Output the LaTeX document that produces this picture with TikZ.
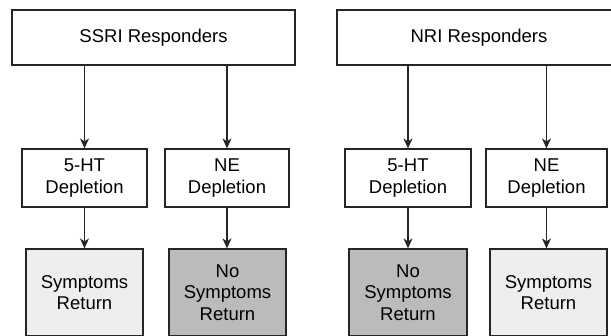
\documentclass[tikz,border=0pt]{standalone}
\usepackage{fontspec}
\setmainfont{Liberation Sans}
\usepackage{tikz}
\usetikzlibrary{arrows.meta}
\definecolor{lightfill}{RGB}{238,238,238}
\definecolor{darkfill}{RGB}{187,187,187}
\tikzset{
  box/.style={draw=black!85, line width=1.2pt, align=center, inner sep=0pt,
    font=\fontsize{18.5}{21.5}\selectfont},
  topbox/.style={box, minimum width=283pt, minimum height=55pt},
  midbox/.style={box, minimum height=58pt},
  endbox/.style={box, minimum height=87pt},
  arr/.style={draw=black!85, line width=1.2pt, -{Stealth[length=10pt,width=9pt,inset=3pt]}}
}

\begin{document}
\begin{tikzpicture}[x=1pt,y=-1pt]
    \useasboundingbox (0,0) rectangle (611,335);
    \node[topbox] (ssri) at (153.5,37.5) {SSRI Responders};
    \node[midbox, minimum width=125pt] (ssriht) at (84.5,178) {5-HT\\Depletion};
    \node[midbox, minimum width=124pt] (ssrine) at (227,178) {NE\\Depletion};
    \node[endbox, minimum width=117pt, fill=lightfill] (ssrihtend) at (84.5,292.5) {Symptoms\\Return};
    \node[endbox, minimum width=117pt, fill=darkfill] (ssrineend) at (227.5,292.5) {No\\Symptoms\\Return};

    \node[topbox, minimum width=284pt] (nri) at (479,37.5) {NRI Responders};
    \node[midbox, minimum width=126pt] (nriht) at (408,178) {5-HT\\Depletion};
    \node[midbox, minimum width=121pt] (nrine) at (546.5,178) {NE\\Depletion};
    \node[endbox, minimum width=118pt, fill=darkfill] (nrihtend) at (408,292.5) {No\\Symptoms\\Return};
    \node[endbox, minimum width=117pt, fill=lightfill] (nrineend) at (548.5,292.5) {Symptoms\\Return};

    \draw[arr] (ssriht.north |- ssri.south) -- (ssriht.north);
    \draw[arr] (ssrine.north |- ssri.south) -- (ssrine.north);
    \draw[arr] (ssriht.south) -- (ssriht.south |- ssrihtend.north);
    \draw[arr] (ssrine.south) -- (ssrine.south |- ssrineend.north);
    \draw[arr] (nriht.north |- nri.south) -- (nriht.north);
    \draw[arr] (nrine.north |- nri.south) -- (nrine.north);
    \draw[arr] (nriht.south) -- (nriht.south |- nrihtend.north);
    \draw[arr] (nrine.south) -- (nrine.south |- nrineend.north);
\end{tikzpicture}
\end{document}
